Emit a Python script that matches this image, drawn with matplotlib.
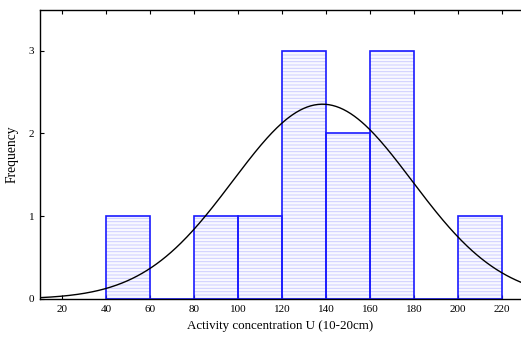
import numpy as np
import matplotlib
matplotlib.use("Agg")
import matplotlib.pyplot as plt

# Histogram bins (lower edges) and counts
bin_edges = [40, 60, 80, 100, 120, 140, 160, 180, 200, 220]
counts = [1, 0, 1, 1, 3, 2, 3, 0, 1]

# Fitted normal curve parameters
fit_mean = 138.3
fit_sd = 40.7

x_ticks = [20, 40, 60, 80, 100, 120, 140, 160, 180, 200, 220]
y_ticks = [0, 1, 2, 3]

plt.rcParams['font.family'] = ['Liberation Serif', 'DejaVu Serif']
plt.rcParams['hatch.linewidth'] = 0.7

fig = plt.figure(figsize=(5.21, 3.42), dpi=100)
ax = fig.add_axes([40 / 521, 43 / 342, 1 - 40 / 521, 289 / 342])

lefts = np.array(bin_edges[:-1])
widths = np.diff(bin_edges)
n_total = sum(counts)

# hatched fill
ax.bar(lefts, counts, width=widths, align='edge', facecolor='#f8f8ff',
       edgecolor='#cdcdff', hatch='-----', linewidth=0, zorder=1)
# outlines
ax.bar(lefts, counts, width=widths, align='edge', facecolor='none',
       edgecolor='#1a1aff', linewidth=1.2, zorder=2)

# normal curve scaled to counts
xs = np.linspace(10, 230, 400)
ys = n_total * widths[0] / (fit_sd * np.sqrt(2 * np.pi)) * np.exp(-(xs - fit_mean) ** 2 / (2 * fit_sd ** 2))
ax.plot(xs, ys, color='black', linewidth=1.0, zorder=3)

ax.set_xlim(10, 228.5)
ax.set_ylim(0, 3.49)
ax.set_xticks(x_ticks)
ax.set_yticks(y_ticks)
ax.tick_params(direction='in', top=True, bottom=True, left=True, right=False,
               labelsize=8, length=3, width=0.8, pad=4)
ax.spines['right'].set_visible(False)
for s in ['left', 'top', 'bottom']:
    ax.spines[s].set_linewidth(1.0)

ax.set_xlabel('Activity concentration U (10-20cm)', fontsize=9.4, labelpad=5)
ax.set_ylabel('Frequency', fontsize=9.8, labelpad=7)

fig.savefig('out.png', dpi=100)
